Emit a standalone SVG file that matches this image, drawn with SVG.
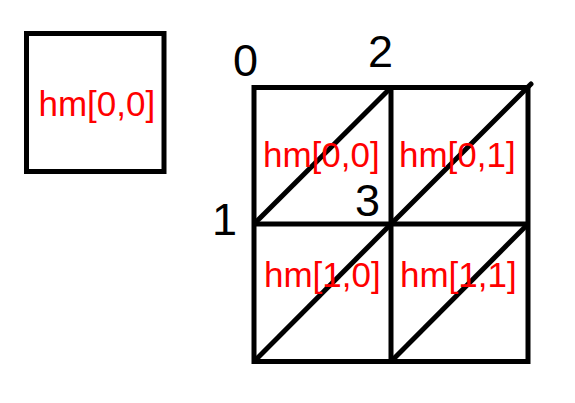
<svg xmlns="http://www.w3.org/2000/svg" width="575" height="403" viewBox="0 0 575 403">
<style>
.ln{stroke:#000;stroke-width:5;fill:none}
.lbl{font-family:"Liberation Sans",Arial,sans-serif;font-size:35px;fill:#ff0000}
.num{font-family:"Liberation Sans",Arial,sans-serif;font-size:45px;fill:#000}
</style>
<rect width="575" height="403" fill="#fff"/>
<g id="single">
<rect class="ln" x="26.5" y="33.5" width="137.5" height="138"/>
<text class="lbl" x="38.5" y="116">hm[0,0]</text>
</g>
<g id="connectors">
<rect class="ln" x="254" y="87.5" width="274" height="274"/>
<line class="ln" x1="391" y1="87.5" x2="391" y2="361.5"/>
<line class="ln" x1="254" y1="224" x2="528" y2="224"/>
<line class="ln" x1="254" y1="224" x2="391" y2="87.5"/>
<line class="ln" x1="391" y1="224" x2="531" y2="84" stroke-linecap="round"/>
<line class="ln" x1="254" y1="361.5" x2="391" y2="224"/>
<line class="ln" x1="391" y1="361.5" x2="528" y2="224"/>
</g>
<g id="cell00"><text class="lbl" x="263" y="167">hm[0,0]</text></g>
<g id="cell01"><text class="lbl" x="399" y="167">hm[0,1]</text></g>
<g id="cell10"><text class="lbl" x="264" y="287">hm[1,0]</text></g>
<g id="cell11"><text class="lbl" x="400" y="287">hm[1,1]</text></g>
<g id="v0"><text class="num" x="233" y="75.5">0</text></g>
<g id="v2"><text class="num" x="368" y="67">2</text></g>
<g id="v1"><text class="num" x="212" y="235">1</text></g>
<g id="v3"><text class="num" x="355" y="216">3</text></g>
</svg>
